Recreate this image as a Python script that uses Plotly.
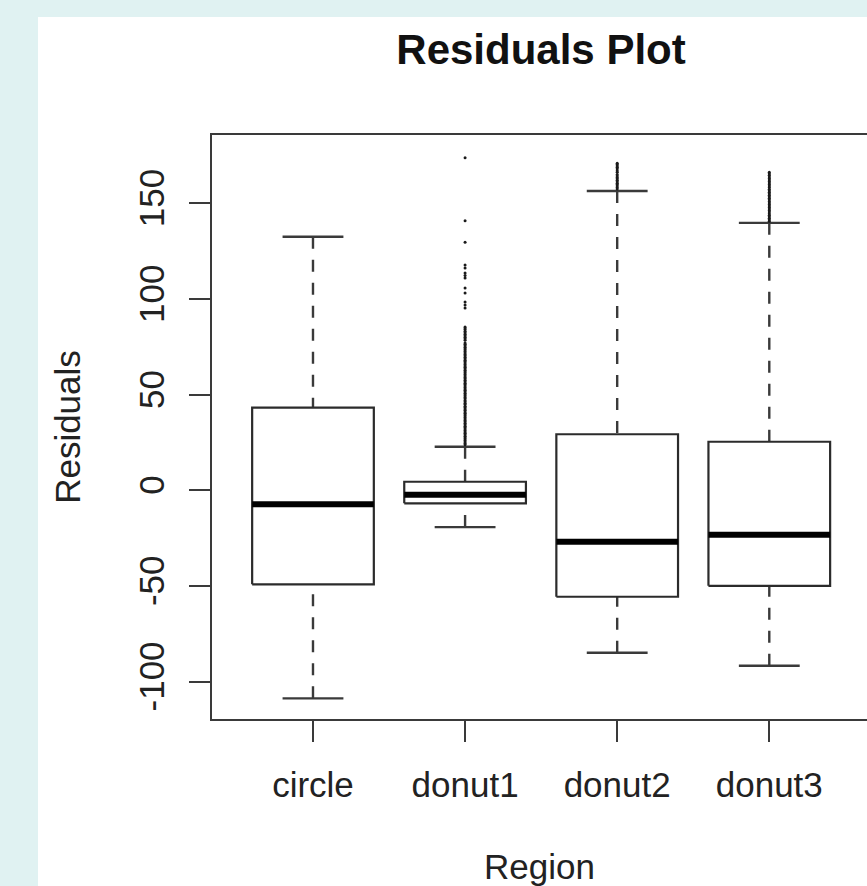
import plotly.graph_objects as go

# ---------------- data ----------------
categories = ["circle", "donut1", "donut2", "donut3"]
q1 = [-49.1, -6.8, -55.6, -49.9]
median = [-7.3, -2.3, -26.9, -23.2]
q3 = [43.2, 4.5, 29.3, 25.4]
lower_whisker = [-108.7, -19.2, -84.9, -91.7]
upper_whisker = [132.5, 22.8, 156.4, 139.8]

outliers_circle = []
outliers_donut1 = [23.8, 24.5, 25.3, 26.0, 26.8, 27.5, 28.3, 29.0, 29.8, 30.5, 31.3,
                   32.0, 32.8, 33.5, 34.3, 35.0, 35.8, 36.5, 37.3, 38.0, 38.8, 39.5,
                   40.3, 41.0, 41.8, 42.5, 43.3, 44.0, 44.8, 45.5, 46.3, 47.0, 47.8,
                   48.5, 49.3, 50.0, 50.8, 51.5, 52.3, 53.0, 53.8, 54.5, 55.3, 56.0,
                   56.8, 57.5, 58.3, 59.0, 59.8, 60.5, 61.3, 62.0, 62.8, 63.5, 64.3,
                   65.0, 65.8, 66.5, 67.3, 68.0, 68.8, 69.5, 70.3, 71.0, 71.8, 72.5,
                   73.3, 74.0, 74.8, 75.5, 76.3, 77.0,
                   78.4, 79.2, 80.0, 80.8, 81.6, 82.4, 83.2, 84.0, 84.8, 85.3,
                   95.3, 96.8, 98.4, 103.1, 105.7,
                   111.0, 112.3, 113.6, 116.2, 117.7, 129.6, 140.9, 173.8]
outliers_donut2 = [157.5, 158.3, 159.0, 159.8, 160.5, 161.3, 162.0, 162.8, 163.5,
                   164.3, 165.0, 166.2, 167.0, 168.0, 168.8, 169.5, 170.3, 171.0]
outliers_donut3 = [140.6, 141.4, 142.2, 143.0, 143.8, 144.6, 145.4, 146.2, 147.0,
                   147.8, 148.6, 149.4, 150.2, 151.0, 151.8, 152.6, 153.4, 154.2,
                   155.0, 155.8, 156.6, 157.4, 158.2, 159.0, 159.8, 160.6, 161.4,
                   162.2, 163.0, 163.8, 164.6, 165.4, 166.2]
outliers = [outliers_circle, outliers_donut1, outliers_donut2, outliers_donut3]

y_ticks = [-100, -50, 0, 50, 100, 150]

# ---------------- styling ----------------
BOXWEX = 0.8
CAPWEX = 0.4
LINE = "#2b2b2b"
FONT = "Liberation Sans, Arial, Helvetica, sans-serif"
W, H = 867, 886
ML, MR, MT, MB = 212, 0, 135, 167
PW, PH = W - ML - MR, H - MT - MB

fig = go.Figure()

for i, cat in enumerate(categories):
    c = i + 1
    # dashed whiskers (drawn from cap towards hinge, like R)
    for y0, y1 in ((upper_whisker[i], q3[i]), (lower_whisker[i], q1[i])):
        fig.add_trace(go.Scatter(x=[c, c], y=[y0, y1], mode="lines",
                                 line=dict(color="#3a3a3a", width=2.4, dash="12px,11px"),
                                 hoverinfo="skip", showlegend=False))
    # caps
    fig.add_trace(go.Scatter(
        x=[c - CAPWEX / 2, c + CAPWEX / 2, None, c - CAPWEX / 2, c + CAPWEX / 2],
        y=[upper_whisker[i], upper_whisker[i], None, lower_whisker[i], lower_whisker[i]],
        mode="lines", line=dict(color="#3a3a3a", width=2.4),
        hoverinfo="skip", showlegend=False))
    # box
    hw = BOXWEX / 2
    fig.add_trace(go.Scatter(
        x=[c - hw, c + hw, c + hw, c - hw, c - hw],
        y=[q1[i], q1[i], q3[i], q3[i], q1[i]],
        mode="lines", line=dict(color=LINE, width=2.2),
        fill="toself", fillcolor="rgba(255,255,255,0)",
        name=cat, showlegend=False))
    # median
    fig.add_trace(go.Scatter(x=[c - hw, c + hw], y=[median[i], median[i]],
                             mode="lines", line=dict(color="#000000", width=6),
                             hoverinfo="skip", showlegend=False))
    # outliers
    if outliers[i]:
        fig.add_trace(go.Scatter(x=[c] * len(outliers[i]), y=outliers[i],
                                 mode="markers",
                                 marker=dict(color="#1a1a1a", size=3, line=dict(width=0)),
                                 showlegend=False))

# background: light cyan border with white panel
def px_x(p):
    return (p - ML) / PW

def px_y(p):
    return (H - MB - p) / PH

fig.add_shape(type="rect", xref="paper", yref="paper",
              x0=px_x(38), x1=px_x(W + 10), y0=px_y(H + 10), y1=px_y(17),
              fillcolor="white", line=dict(width=0), layer="below")

fig.update_layout(
    width=W, height=H,
    margin=dict(l=ML, r=MR, t=MT, b=MB, pad=0),
    paper_bgcolor="#e0f2f2",
    plot_bgcolor="white",
    font=dict(family=FONT, size=35, color="#222222"),
    title=dict(text="<b>Residuals Plot</b>", x=541 / W,
               xanchor="center", y=1 - 49 / H, yanchor="middle", yref="container",
               font=dict(size=42, color="#111111", family=FONT)),
)

fig.update_xaxes(
    range=[0.336, 0.336 + PW / 152.1],
    tickmode="array", tickvals=[1, 2, 3, 4], ticktext=categories,
    ticks="outside", ticklen=21, tickwidth=2, tickcolor="#3a3a3a",
    ticklabelstandoff=13,
    showline=True, linecolor="#3a3a3a", linewidth=2, mirror=True,
    showgrid=False, zeroline=False,
    tickfont=dict(size=35, color="#222222"),
    title=dict(text="Region", font=dict(size=35, color="#222222"), standoff=54),
)
fig.update_yaxes(
    range=[-119.5, 185.7],
    tickmode="array", tickvals=y_ticks, ticktext=[str(v) for v in y_ticks],
    tickangle=-90,
    ticks="outside", ticklen=21, tickwidth=2, tickcolor="#3a3a3a",
    ticklabelstandoff=11,
    showline=True, linecolor="#3a3a3a", linewidth=2, mirror=False,
    showgrid=False, zeroline=False,
    tickfont=dict(size=35, color="#222222"),
    title=dict(text="Residuals", font=dict(size=35, color="#222222"), standoff=41),
)

fig.write_html("out.html", config={"displayModeBar": False},
               post_script="document.body.style.margin='0';")
